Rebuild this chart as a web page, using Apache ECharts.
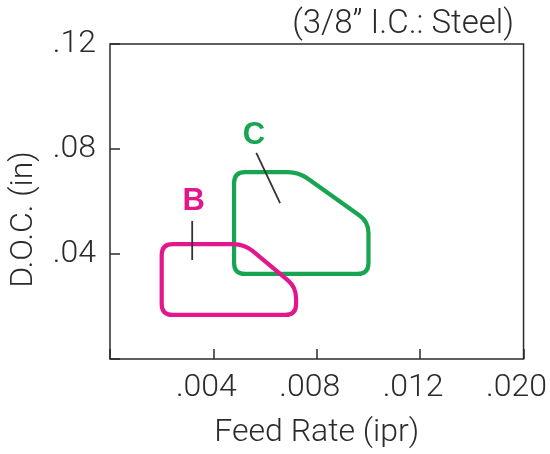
<!DOCTYPE html>
<html>
<head>
<meta charset="utf-8">
<script src="https://cdn.jsdelivr.net/npm/echarts@6/dist/echarts.min.js"></script>
<style>
html,body{margin:0;padding:0;background:#fff;}
#chart{width:550px;height:454px;}
</style>
</head>
<body>
<div id="chart"></div>
<script>
// Axis ticks (x axis has a compressed last interval: .012 -> .020 drawn as one step)
var xTickValues = [0, 0.004, 0.008, 0.012, 0.016];
var xTickLabels = ['', '.004', '.008', '.012', '.020'];
var yTickValues = [0, 0.04, 0.08, 0.12];
var yTickLabels = ['', '.04', '.08', '.12'];

// Region B (magenta): feed rate / depth of cut vertices
var regionBFeed = [0.0020, 0.0052, 0.0072, 0.0072, 0.0020];
var regionBDoc  = [0.0438, 0.0438, 0.0274, 0.0168, 0.0168];
// Region C (green)
var regionCFeed = [0.0048, 0.0073, 0.0100, 0.0100, 0.0048];
var regionCDoc  = [0.0712, 0.0712, 0.0522, 0.0324, 0.0324];

// Labels and leader lines (data coordinates)
var labelB = {text: 'B', pos: [0.00324, 0.0600], leader: [[0.00318, 0.0526], [0.00318, 0.0377]]};
var labelC = {text: 'C', pos: [0.00557, 0.0853], leader: [[0.00566, 0.0785], [0.00658, 0.0594]]};

var colorB = '#e2178c';
var colorC = '#17a552';
var lightFont = 'Roboto, "Liberation Sans", sans-serif';
var textColor = '#2b2b2b';

function roundedPath(pts, r) {
  var n = pts.length, d = '';
  for (var i = 0; i < n; i++) {
    var P = pts[i], A0 = pts[(i - 1 + n) % n], B0 = pts[(i + 1) % n];
    var v1 = [A0[0] - P[0], A0[1] - P[1]], v2 = [B0[0] - P[0], B0[1] - P[1]];
    var l1 = Math.hypot(v1[0], v1[1]), l2 = Math.hypot(v2[0], v2[1]);
    var rr = Math.min(r, l1 / 2, l2 / 2);
    var A = [P[0] + v1[0] / l1 * rr, P[1] + v1[1] / l1 * rr];
    var B = [P[0] + v2[0] / l2 * rr, P[1] + v2[1] / l2 * rr];
    d += (i === 0 ? 'M' : 'L') + A[0] + ' ' + A[1] + ' Q' + P[0] + ' ' + P[1] + ' ' + B[0] + ' ' + B[1] + ' ';
  }
  return d + 'Z';
}

function makeRegion(feed, doc, label, color) {
  return {
    type: 'custom',
    data: [[feed[0], doc[0]]],
    renderItem: function (params, api) {
      var pts = feed.map(function (f, i) { return api.coord([f, doc[i]]); });
      var p1 = api.coord(label.leader[0]), p2 = api.coord(label.leader[1]);
      var lp = api.coord(label.pos);
      return {
        type: 'group',
        children: [
          {type: 'path', shape: {pathData: roundedPath(pts, 11)},
           style: {fill: 'none', stroke: color, lineWidth: 4.2, lineJoin: 'round'}},
          {type: 'line', shape: {x1: p1[0], y1: p1[1], x2: p2[0], y2: p2[1]},
           style: {stroke: '#333', lineWidth: 1.8}},
          {type: 'text', x: lp[0], y: lp[1],
           style: {text: label.text, fill: color, fontSize: 31, fontWeight: 'bold',
                   fontFamily: '"Liberation Sans", Arial, sans-serif', align: 'center', verticalAlign: 'middle'}}
        ]
      };
    }
  };
}

var chart = echarts.init(document.getElementById('chart'), null, {renderer: 'canvas'});
chart.setOption({
  animation: false,
  backgroundColor: '#fff',
  title: {
    text: '(3/8\u201D I.C.: Steel)',
    right: 31, top: 3,
    textStyle: {fontSize: 33, fontWeight: 300, fontFamily: lightFont, color: textColor}
  },
  grid: {left: 106.7, right: 24.3, top: 44, bottom: 95, show: true,
         borderColor: '#2b2b2b', borderWidth: 1.5, backgroundColor: 'transparent'},
  xAxis: {
    type: 'value', min: 0, max: 0.016, interval: 0.004,
    name: 'Feed Rate (ipr)', nameLocation: 'middle', nameGap: 58,
    nameTextStyle: {fontSize: 32, fontWeight: 300, fontFamily: lightFont, color: textColor},
    axisLine: {show: false},
    axisTick: {show: true, inside: true, length: 10, lineStyle: {color: '#2b2b2b', width: 1.5}},
    splitLine: {show: false},
    axisLabel: {
      margin: 13, fontSize: 32, fontWeight: 300, fontFamily: lightFont, color: textColor,
      padding: [0, 14, 0, 0],
      formatter: function (v) {
        for (var i = 0; i < xTickValues.length; i++) if (Math.abs(v - xTickValues[i]) < 1e-9) return xTickLabels[i];
        return '';
      }
    }
  },
  yAxis: {
    type: 'value', min: 0, max: 0.12, interval: 0.04,
    name: 'D.O.C. (in)', nameLocation: 'middle', nameGap: 70,
    nameTextStyle: {fontSize: 32, fontWeight: 300, fontFamily: lightFont, color: textColor, padding: [0, 36, 0, 0]},
    axisLine: {show: false},
    axisTick: {show: true, inside: true, length: 10, lineStyle: {color: '#2b2b2b', width: 1.5}},
    splitLine: {show: false},
    axisLabel: {
      margin: 14, fontSize: 32, fontWeight: 300, fontFamily: lightFont, color: textColor,
      formatter: function (v) {
        for (var i = 0; i < yTickValues.length; i++) if (Math.abs(v - yTickValues[i]) < 1e-9) return yTickLabels[i];
        return '';
      }
    }
  },
  series: [
    makeRegion(regionCFeed, regionCDoc, labelC, colorC),
    makeRegion(regionBFeed, regionBDoc, labelB, colorB)
  ]
});
</script>
</body>
</html>
